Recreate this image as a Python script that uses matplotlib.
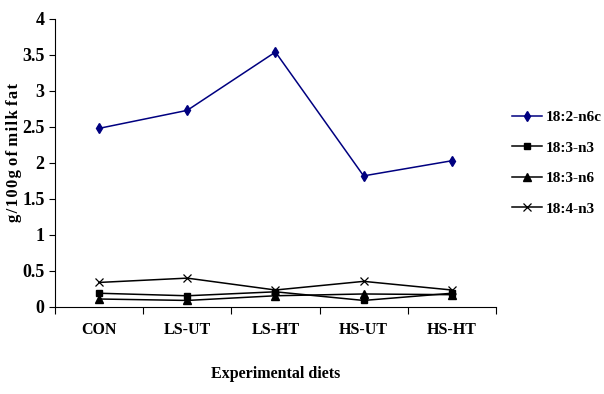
import numpy as np
import matplotlib
matplotlib.use('Agg')
import matplotlib.pyplot as plt

diets = ['CON', 'LS-UT', 'LS-HT', 'HS-UT', 'HS-HT']
fa_182n6c = [2.48, 2.73, 3.54, 1.82, 2.03]
fa_183n3 = [0.19, 0.155, 0.21, 0.09, 0.19]
fa_183n6 = [0.11, 0.09, 0.155, 0.18, 0.17]
fa_184n3 = [0.34, 0.40, 0.235, 0.355, 0.235]

plt.rcParams['font.family'] = ['Liberation Serif', 'DejaVu Serif']
plt.rcParams['font.weight'] = 'bold'

fig = plt.figure(figsize=(6.04, 3.94), dpi=100)
ax = fig.add_axes([0.091, 0.221, 0.730, 0.731])

x = np.arange(len(diets)) + 0.5
ax.plot(x, fa_182n6c, color='#000080', marker='d', markersize=5, lw=1.1, label='18:2-n6c')
ax.plot(x, fa_183n3, color='black', marker='s', markersize=4.5, lw=1.1, label='18:3-n3')
ax.plot(x, fa_183n6, color='black', marker='^', markersize=5.5, lw=1.1, label='18:3-n6')
ax.plot(x, fa_184n3, color='black', marker='x', markersize=6, mew=0.9, lw=1.1, label='18:4-n3')

ax.set_xlim(0, len(diets))
ax.set_ylim(0, 4)
ax.set_xticks(np.arange(len(diets) + 1))
ax.set_xticklabels([])
ax.set_xticks(x, minor=True)
ax.set_xticklabels(diets, minor=True, fontsize=11.5, fontweight='bold')
ax.tick_params(axis='x', which='minor', length=0, pad=11)
ax.tick_params(axis='x', which='major', length=5, direction='out')
ax.set_yticks(np.arange(0, 4.01, 0.5))
ax.set_yticklabels(['0', '0.5', '1', '1.5', '2', '2.5', '3', '3.5', '4'], fontsize=13, fontweight='bold')
ax.tick_params(axis='y', length=4, direction='out')

for s in ['top', 'right']:
    ax.spines[s].set_visible(False)

# letter-spaced axis title, hair spaces inside words
ylab = ' '.join('\u200a'.join(w) for w in ['g/100g', 'of', 'milk', 'fat'])
ax.set_xlabel('Experimental diets', fontsize=11.5, fontweight='bold', labelpad=20)
ax.set_ylabel(ylab, fontsize=12, fontweight='bold')
ax.yaxis.set_label_coords(-0.074, 0.535)

ax.legend(loc='upper left', bbox_to_anchor=(1.005, 0.73), frameon=False,
          fontsize=11, handlelength=2.0, labelspacing=1.1, handletextpad=0.2)

fig.savefig('out.png', dpi=100)
